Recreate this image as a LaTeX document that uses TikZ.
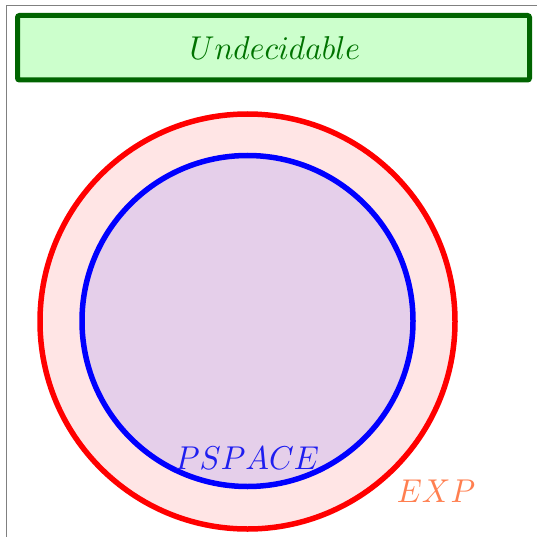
\documentclass[tikz,border=0pt]{standalone}
\definecolor{boxfill}{RGB}{204,255,204}
\definecolor{boxline}{RGB}{0,100,0}
\definecolor{boxtext}{RGB}{0,115,0}
\definecolor{expfill}{RGB}{255,229,229}
\definecolor{psfill}{RGB}{229,207,234}
\definecolor{exptext}{RGB}{255,127,80}
\definecolor{pstext}{RGB}{30,30,240}
\begin{document}
\begin{tikzpicture}[x=1pt,y=-1pt,
  lbl/.style={inner sep=0pt, xscale=3.15, yscale=3.3, transform shape, anchor=base},
  ring/.style={line width=5.5pt}]
\useasboundingbox (0,0) rectangle (537,537);
\coordinate (f1) at (6.5,540);
\coordinate (f2) at (6.5,5.5);
\coordinate (f3) at (540,5.5);
\draw[gray, line width=1pt] (f1) -- (f2) -- (f3);
\node[draw=boxline, fill=boxfill, line width=5pt, rounded corners=2pt,
      minimum width=512pt, minimum height=64.5pt, inner sep=0pt] (undec) at (273.5,47.75) {};
\node[lbl, text=boxtext] (undectext) at (275,60) {$Undecidable$};
\node[circle, draw=red, fill=expfill, ring, minimum size=415pt, inner sep=0pt] (exp) at (247.5,321.5) {};
\node[circle, draw=blue, fill=psfill, ring, minimum size=331pt, inner sep=0pt] (ps) at (247.5,321) {};
\node[lbl, text=pstext] (pstxt) at (247,469.3) {$PSPACE$};
\node[lbl, text=exptext] (exptxt) at (436,502) {$EXP$};
\end{tikzpicture}
\end{document}
